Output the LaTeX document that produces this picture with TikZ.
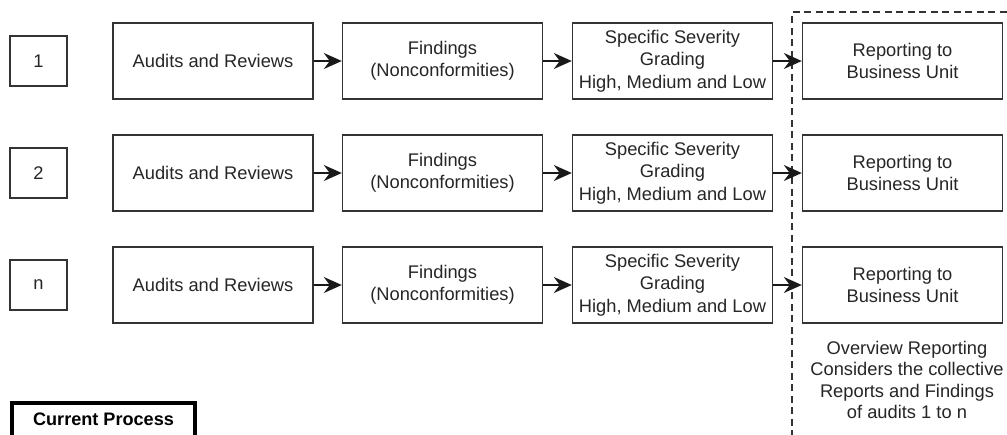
\documentclass[tikz,border=0pt]{standalone}
\usepackage{fontspec}
\setmainfont{Liberation Sans}
\usetikzlibrary{arrows.meta}
\begin{document}
\begin{tikzpicture}[x=1pt,y=-1pt,
  every node/.style={text=black!85},
  txt/.style={font=\fontsize{18.3}{22.5}\selectfont, align=center},
  stagebox/.style={txt, draw=black!80, line width=1.4pt, minimum width=200pt, minimum height=76pt, inner sep=0pt},
  numbox/.style={txt, draw=black!80, line width=1.4pt, minimum width=57pt, minimum height=50pt, inner sep=0pt},
  arr/.style={draw=black!90, line width=1.4pt, -{Stealth[length=18pt,width=16pt,inset=6pt]}},
  groupline/.style={draw=black!80, line width=1.3pt, dash pattern=on 7pt off 4.5pt}
]
\useasboundingbox (0,0) rectangle (1007,434);
\clip (0,0) rectangle (1007,434);
\fill[white] (0,0) rectangle (1007,434);

% dashed frame around the reporting column
\draw[groupline] (792,460) -- (792,12) -- (1030,12);

% three audit rows
\foreach \r/\lab/\y in {1/1/61, 2/2/173, 3/n/285} {
  \node[numbox]   (num\r) at (38.5,\y)  {\lab};
  \node[stagebox] (aud\r) at (213,\y)   {Audits and Reviews};
  \node[stagebox] (fin\r) at (442.5,\y) {Findings\\(Nonconformities)};
  \node[stagebox] (sev\r) at (672.5,\y) {Specific Severity\\Grading\\High, Medium and Low};
  \node[stagebox] (rep\r) at (902.5,\y) {Reporting to\\Business Unit};
  \draw[arr] (aud\r.east) -- (fin\r.west);
  \draw[arr] (fin\r.east) -- (sev\r.west);
  \draw[arr] (sev\r.east) -- (rep\r.west);
}

% note under the reporting column
\node[txt, font=\fontsize{18.3}{21.5}\selectfont] (overview) at (907,380)
  {Overview Reporting\\Considers the collective\\Reports and Findings\\of audits 1 to n};

% legend box
\node[draw=black, line width=4pt, minimum width=183pt, minimum height=44pt,
      anchor=north, font=\fontsize{18.1}{22}\selectfont\bfseries, text=black, inner sep=0pt,
      text depth=12pt]
  (legend) at (103.5,401) {Current Process};
\end{tikzpicture}
\end{document}
